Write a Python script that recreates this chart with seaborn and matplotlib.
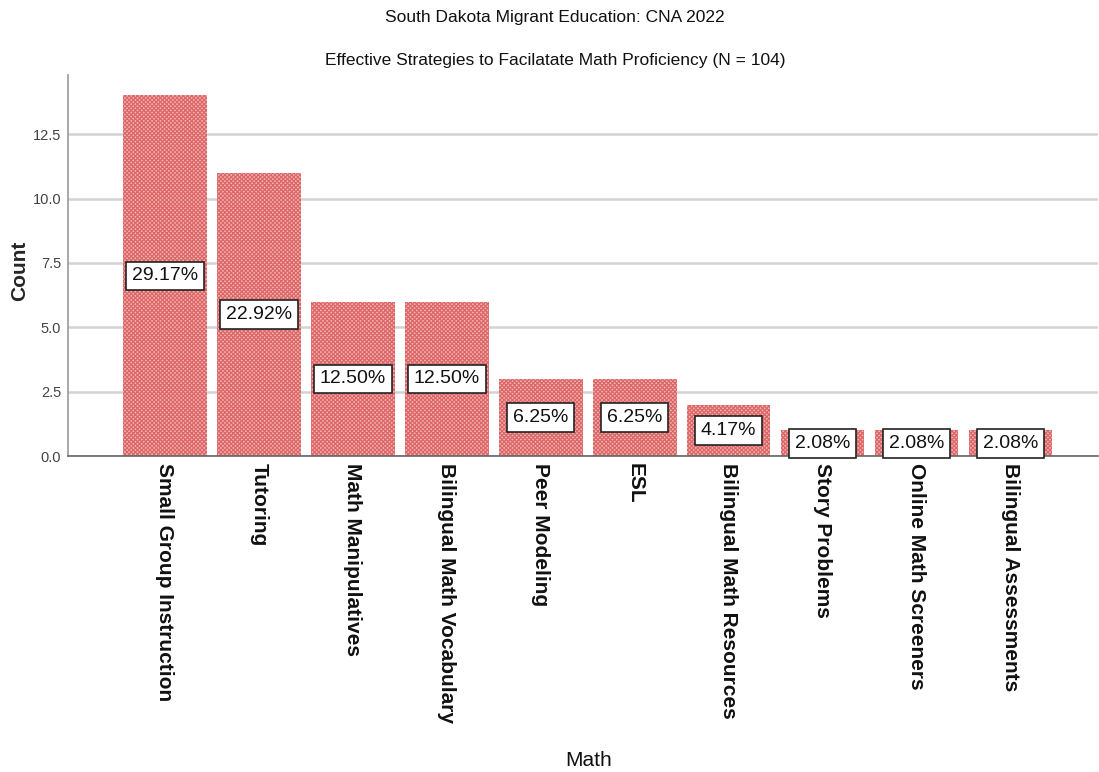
import matplotlib
matplotlib.use("Agg")
import matplotlib.pyplot as plt
import seaborn as sns
import pandas as pd

# values
strategies = ["Small Group Instruction", "Tutoring", "Math Manipulatives",
              "Bilingual Math Vocabulary", "Peer Modeling", "ESL",
              "Bilingual Math Resources", "Story Problems",
              "Online Math Screeners", "Bilingual Assessments"]
counts = [14, 11, 6, 6, 3, 3, 2, 1, 1, 1]
pct_labels = ["29.17%", "22.92%", "12.50%", "12.50%", "6.25%", "6.25%",
              "4.17%", "2.08%", "2.08%", "2.08%"]
y_ticks = [0, 2.5, 5, 7.5, 10, 12.5]

df = pd.DataFrame({"Math": strategies, "Count": counts})

sns.set_style("white")
plt.rcParams["font.family"] = ["Liberation Sans", "DejaVu Sans"]
plt.rcParams["hatch.linewidth"] = 0.9

fig = plt.figure(figsize=(10.99, 7.72), dpi=100)
ax = fig.add_axes([0.062, 0.409, 0.937, 0.494])

sns.barplot(data=df, x="Math", y="Count", color="#f2b4b4", saturation=1,
            width=0.89, ax=ax, zorder=2)
for p in ax.patches:
    p.set_hatch("xxxxxxxx")
    p.set_edgecolor("#dd6666")
    p.set_linewidth(0)

for i, (c, lab) in enumerate(zip(counts, pct_labels)):
    ax.text(i, c / 2, lab, ha="center", va="center", fontsize=14,
            color="#111111", zorder=5,
            bbox=dict(boxstyle="square,pad=0.3", fc="white", ec="#222222", lw=1.2))

ax.set_xlim(-1.03, 9.93)
ax.set_ylim(0, 14.8)
ax.set_yticks(y_ticks)
ax.set_yticklabels([f"{t:.1f}" for t in y_ticks], fontsize=10.5, color="#444444")
ax.yaxis.grid(True, color="#d3d3d3", linewidth=1.8, zorder=0)
ax.set_axisbelow(True)
ax.tick_params(axis="x", length=0, pad=5)
ax.tick_params(axis="y", length=0, pad=5)
plt.setp(ax.get_xticklabels(), rotation=270, fontsize=15, fontweight="bold",
         va="top", ha="center", color="#111111")

for s in ["top", "right"]:
    ax.spines[s].set_visible(False)
ax.spines["left"].set_color("#999999")
ax.spines["bottom"].set_color("#666666")
for s in ["left", "bottom"]:
    ax.spines[s].set_linewidth(1.2)

ax.set_ylabel("Count", fontsize=15, fontweight="bold")
ax.yaxis.set_label_coords(-0.038, 0.485)
ax.set_xlabel("Math", fontsize=15, color="#111111")
ax.xaxis.set_label_coords(0.505, -0.772)

fig.text(0.505, 0.977, "South Dakota Migrant Education: CNA 2022",
         ha="center", va="center", fontsize=12.5, color="#111111")
fig.text(0.505, 0.922, "Effective Strategies to Facilatate Math Proficiency (N = 104)",
         ha="center", va="center", fontsize=12.5, color="#111111")

fig.savefig("out.png", dpi=100)
